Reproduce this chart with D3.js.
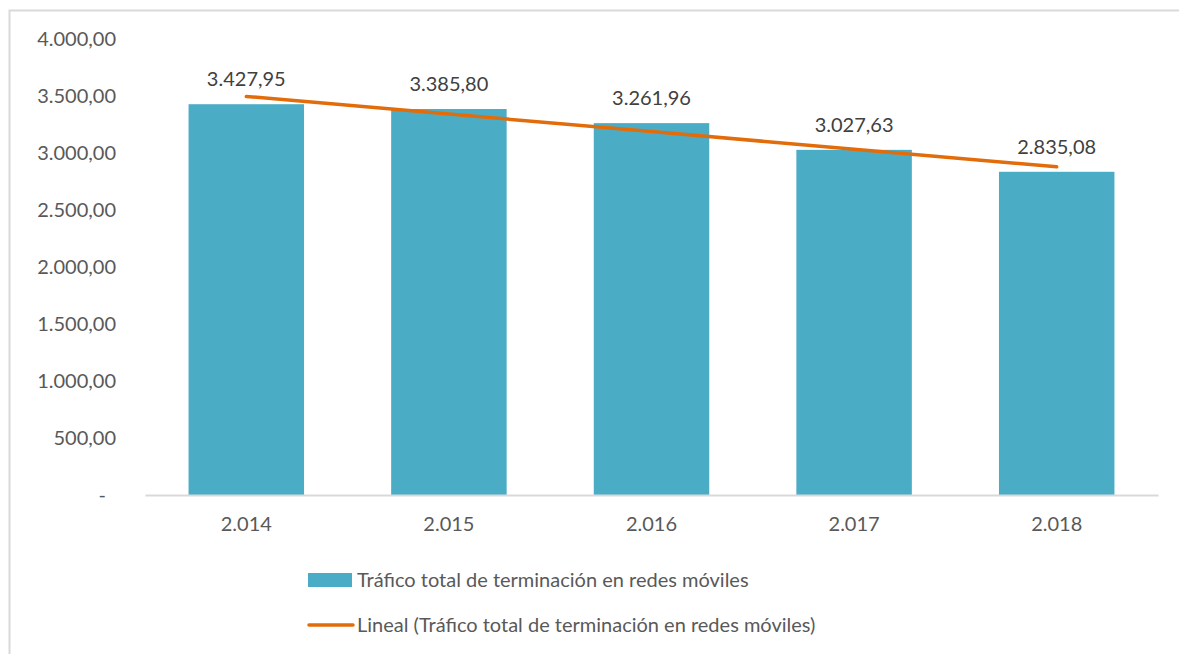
<!DOCTYPE html>
<html>
<head>
<meta charset="utf-8">
<script src="https://cdn.jsdelivr.net/npm/d3@7"></script>
<style>
  body { margin: 0; background: #fff; }
  text { font-family: Lato, "Open Sans", sans-serif; }
</style>
</head>
<body>
<div id="chart"></div>
<script>
// data
var years = ["2.014", "2.015", "2.016", "2.017", "2.018"];
var traffic = [3427.95, 3385.80, 3261.96, 3027.63, 2835.08];
var yTicks = [0, 500, 1000, 1500, 2000, 2500, 3000, 3500, 4000];
var seriesName = "Tráfico total de terminación en redes móviles";
var trendName = "Lineal (Tráfico total de terminación en redes móviles)";

// setup dimensions
var W = 1179, H = 654;
var margin = {top: 39, right: 21, bottom: 159, left: 145},
    width = W - margin.left - margin.right,
    height = H - margin.top - margin.bottom;

var svg = d3.select("#chart").append("svg")
  .attr("width", W)
  .attr("height", H);

// chart frame (clipped at right and bottom like the source)
svg.append("path")
  .attr("d", "M9.5," + H + "V10.5H" + W)
  .attr("fill", "none")
  .attr("stroke", "#d9d9d9")
  .attr("stroke-width", 2);

var g = svg.append("g")
  .attr("transform", "translate(" + margin.left + "," + margin.top + ")");

// scales
var x = d3.scaleBand()
  .domain(years)
  .range([0, width])
  .paddingInner(0.43)
  .paddingOuter(0.215);
var y = d3.scaleLinear()
  .domain([0, 4000])
  .range([height, 0]);

var fmt = function(v) {
  if (v === 0) return "-";
  return d3.format(",.2f")(v).replace(/,/g, "#").replace(".", ",").replace(/#/g, ".");
};

// y axis labels
var yAxis = g.append("g")
  .call(d3.axisLeft(y).tickValues(yTicks).tickSize(0).tickPadding(29).tickFormat(fmt));
yAxis.select(".domain").remove();
yAxis.selectAll("text")
  .attr("font-size", 20)
  .attr("fill", "#595959")
  .attr("dx", function(d) { return d === 0 ? -10 : 0; });

// bars
g.selectAll("rect.bar")
  .data(traffic)
  .enter().append("rect")
  .attr("class", "bar")
  .attr("x", function(d, i) { return x(years[i]); })
  .attr("y", function(d) { return y(d); })
  .attr("width", x.bandwidth())
  .attr("height", function(d) { return height - y(d); })
  .attr("fill", "#4bacc6");

// x axis
var xAxis = g.append("g")
  .attr("transform", "translate(0," + height + ")")
  .call(d3.axisBottom(x).tickSize(0).tickPadding(22));
xAxis.select(".domain")
  .attr("stroke", "#d9d9d9")
  .attr("stroke-width", 2);
xAxis.selectAll("text")
  .attr("font-size", 20)
  .attr("fill", "#595959");

// linear trend (least squares on category index)
var mx = d3.mean(traffic, function(d, i) { return i; }),
    my = d3.mean(traffic);
var slope = d3.sum(traffic, function(d, i) { return (i - mx) * (d - my); }) /
            d3.sum(traffic, function(d, i) { return (i - mx) * (i - mx); });
var trend = traffic.map(function(d, i) { return my + slope * (i - mx); });

g.append("path")
  .datum(trend)
  .attr("fill", "none")
  .attr("stroke", "#e36c0a")
  .attr("stroke-width", 3.5)
  .attr("stroke-linecap", "round")
  .attr("d", d3.line()
    .x(function(d, i) { return x(years[i]) + x.bandwidth() / 2; })
    .y(function(d) { return y(d); }));

// value labels
g.selectAll("text.value")
  .data(traffic)
  .enter().append("text")
  .attr("class", "value")
  .attr("x", function(d, i) { return x(years[i]) + x.bandwidth() / 2; })
  .attr("y", function(d) { return y(d) - 18; })
  .attr("text-anchor", "middle")
  .attr("font-size", 20)
  .attr("fill", "#404040")
  .text(fmt);

// legend
var legend = svg.append("g")
  .attr("transform", "translate(308,0)");
legend.append("rect")
  .attr("x", 0).attr("y", 573)
  .attr("width", 44).attr("height", 14)
  .attr("fill", "#4bacc6");
legend.append("text")
  .attr("x", 49).attr("y", 580)
  .attr("dy", "0.35em")
  .attr("font-size", 20)
  .attr("fill", "#595959")
  .text(seriesName);
legend.append("line")
  .attr("x1", 1).attr("x2", 45)
  .attr("y1", 625).attr("y2", 625)
  .attr("stroke", "#e36c0a")
  .attr("stroke-width", 3.5)
  .attr("stroke-linecap", "round");
legend.append("text")
  .attr("x", 49).attr("y", 625)
  .attr("dy", "0.35em")
  .attr("font-size", 20)
  .attr("fill", "#595959")
  .text(trendName);
</script>
</body>
</html>
